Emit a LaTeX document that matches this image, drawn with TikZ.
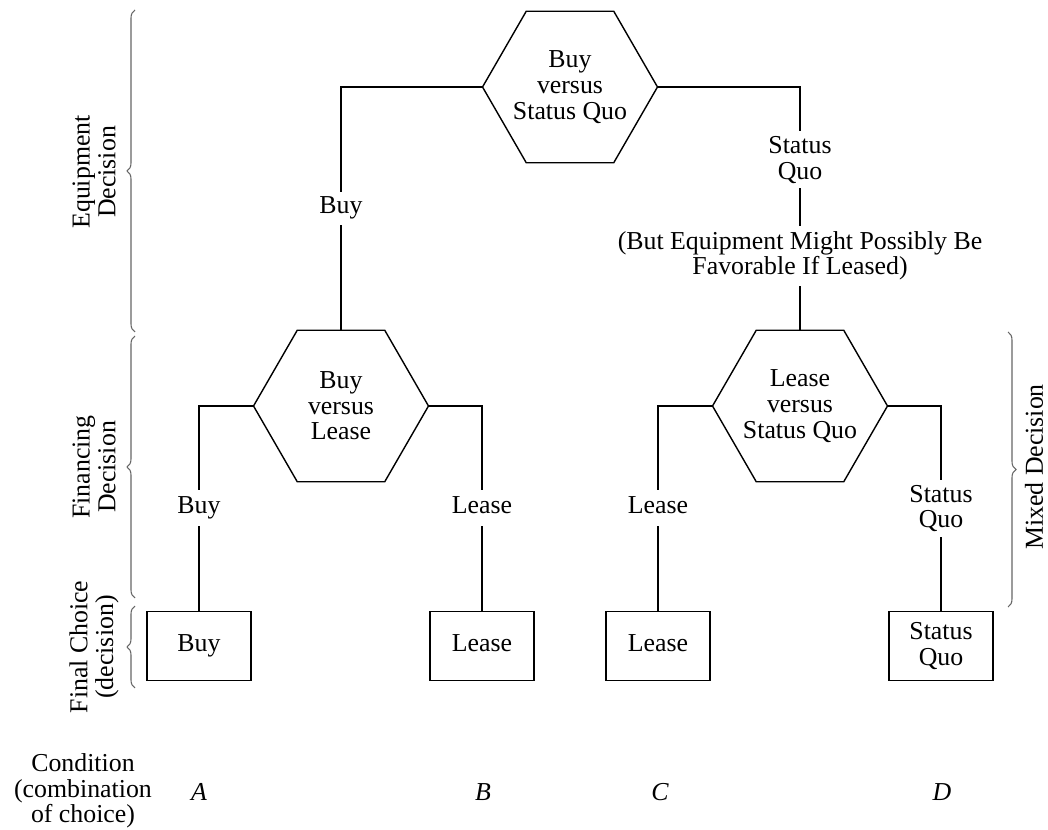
\documentclass[tikz,border=0pt]{standalone}
\usepackage{fontspec}
\setmainfont{Liberation Serif}
\usetikzlibrary{positioning, shapes.geometric, decorations.pathreplacing}

\begin{document}
\begin{tikzpicture}[
        x=0.02cm, y=-0.02cm,
        font=\fontsize{14.7}{14.6}\selectfont,
        hexa/.style = {draw, regular polygon, regular polygon sides=6, minimum size=3.5cm, inner sep=-10pt, align=center, line width=0.8pt},
        choice/.style = {draw, line width=0.8pt, minimum width=2.08cm, minimum height=1.38cm, align=center},
        branch/.style = {draw, line width=1.6pt},
        lbl/.style = {fill=white, align=center, inner sep=3pt},
        brace/.style = {draw=black!60, line width=0.6pt, decorate, decoration={brace, amplitude=0.16cm}},
        side/.style = {rotate=90, align=center}
    ]
        \useasboundingbox (0,0) rectangle (1048,830);

        % Decision nodes
        \node (eqhex) [hexa] at (570,87) {Buy\\versus\\Status Quo};
        \node (buyhex) [hexa] at (341,406) {Buy\\versus\\Lease};
        \node (leasehex) [hexa] at (800,406) {Lease\\versus\\Status Quo};

        % Final choices
        \node (fbuy) [choice] at (199,646) {Buy\strut};
        \node (flease) [choice] at (482,646) {Lease\strut};
        \node (fleasec) [choice] at (658,646) {Lease\strut};
        \node (fquo) [choice] at (941,646) {Status\\Quo};

        % Equipment decision branches
        \draw [branch] (eqhex.west) -| (buyhex.north) node [lbl, pos=0.75] {Buy};
        \draw [branch] (eqhex.east) -| (leasehex.north)
            node [lbl, pos=0.65] {Status\\Quo}
            node [lbl, pos=0.848] {(But Equipment Might Possibly Be\\Favorable If Leased)};

        % Financing decision branches
        \draw [branch] (buyhex.west) -| (fbuy.north) node [lbl, pos=0.75] {Buy\strut};
        \draw [branch] (buyhex.east) -| (flease.north) node [lbl, pos=0.75] {Lease\strut};
        \draw [branch] (leasehex.west) -| (fleasec.north) node [lbl, pos=0.75] {Lease\strut};
        \draw [branch] (leasehex.east) -| (fquo.north) node [lbl, pos=0.75] {Status\\Quo};

        % Braces and side labels
        \draw [brace] (135,332) -- (135,10);
        \draw [brace] (135,598) -- (135,336);
        \draw [brace] (135,688) -- (135,606);
        \draw [brace] (1008,332) -- (1008,607);
        \node (eqtxt) [side] at (94,172) {Equipment\\Decision};
        \node (fintxt) [side] at (94,467) {Financing\\Decision};
        \node (fintxt2) [side] at (94,647) {Final Choice\\(decision)};
        \node (mixtxt) [side] at (1034,467) {Mixed Decision};

        % Conditions
        \node (cond) [align=center] at (83,791) {Condition\\(combination\\of choice)};
        \node (conda) at (199,792) {\textit{A}};
        \node (condb) at (483,792) {\textit{B}};
        \node (condc) at (660,792) {\textit{C}};
        \node (condd) at (942,792) {\textit{D}};

    \end{tikzpicture}
\end{document}
